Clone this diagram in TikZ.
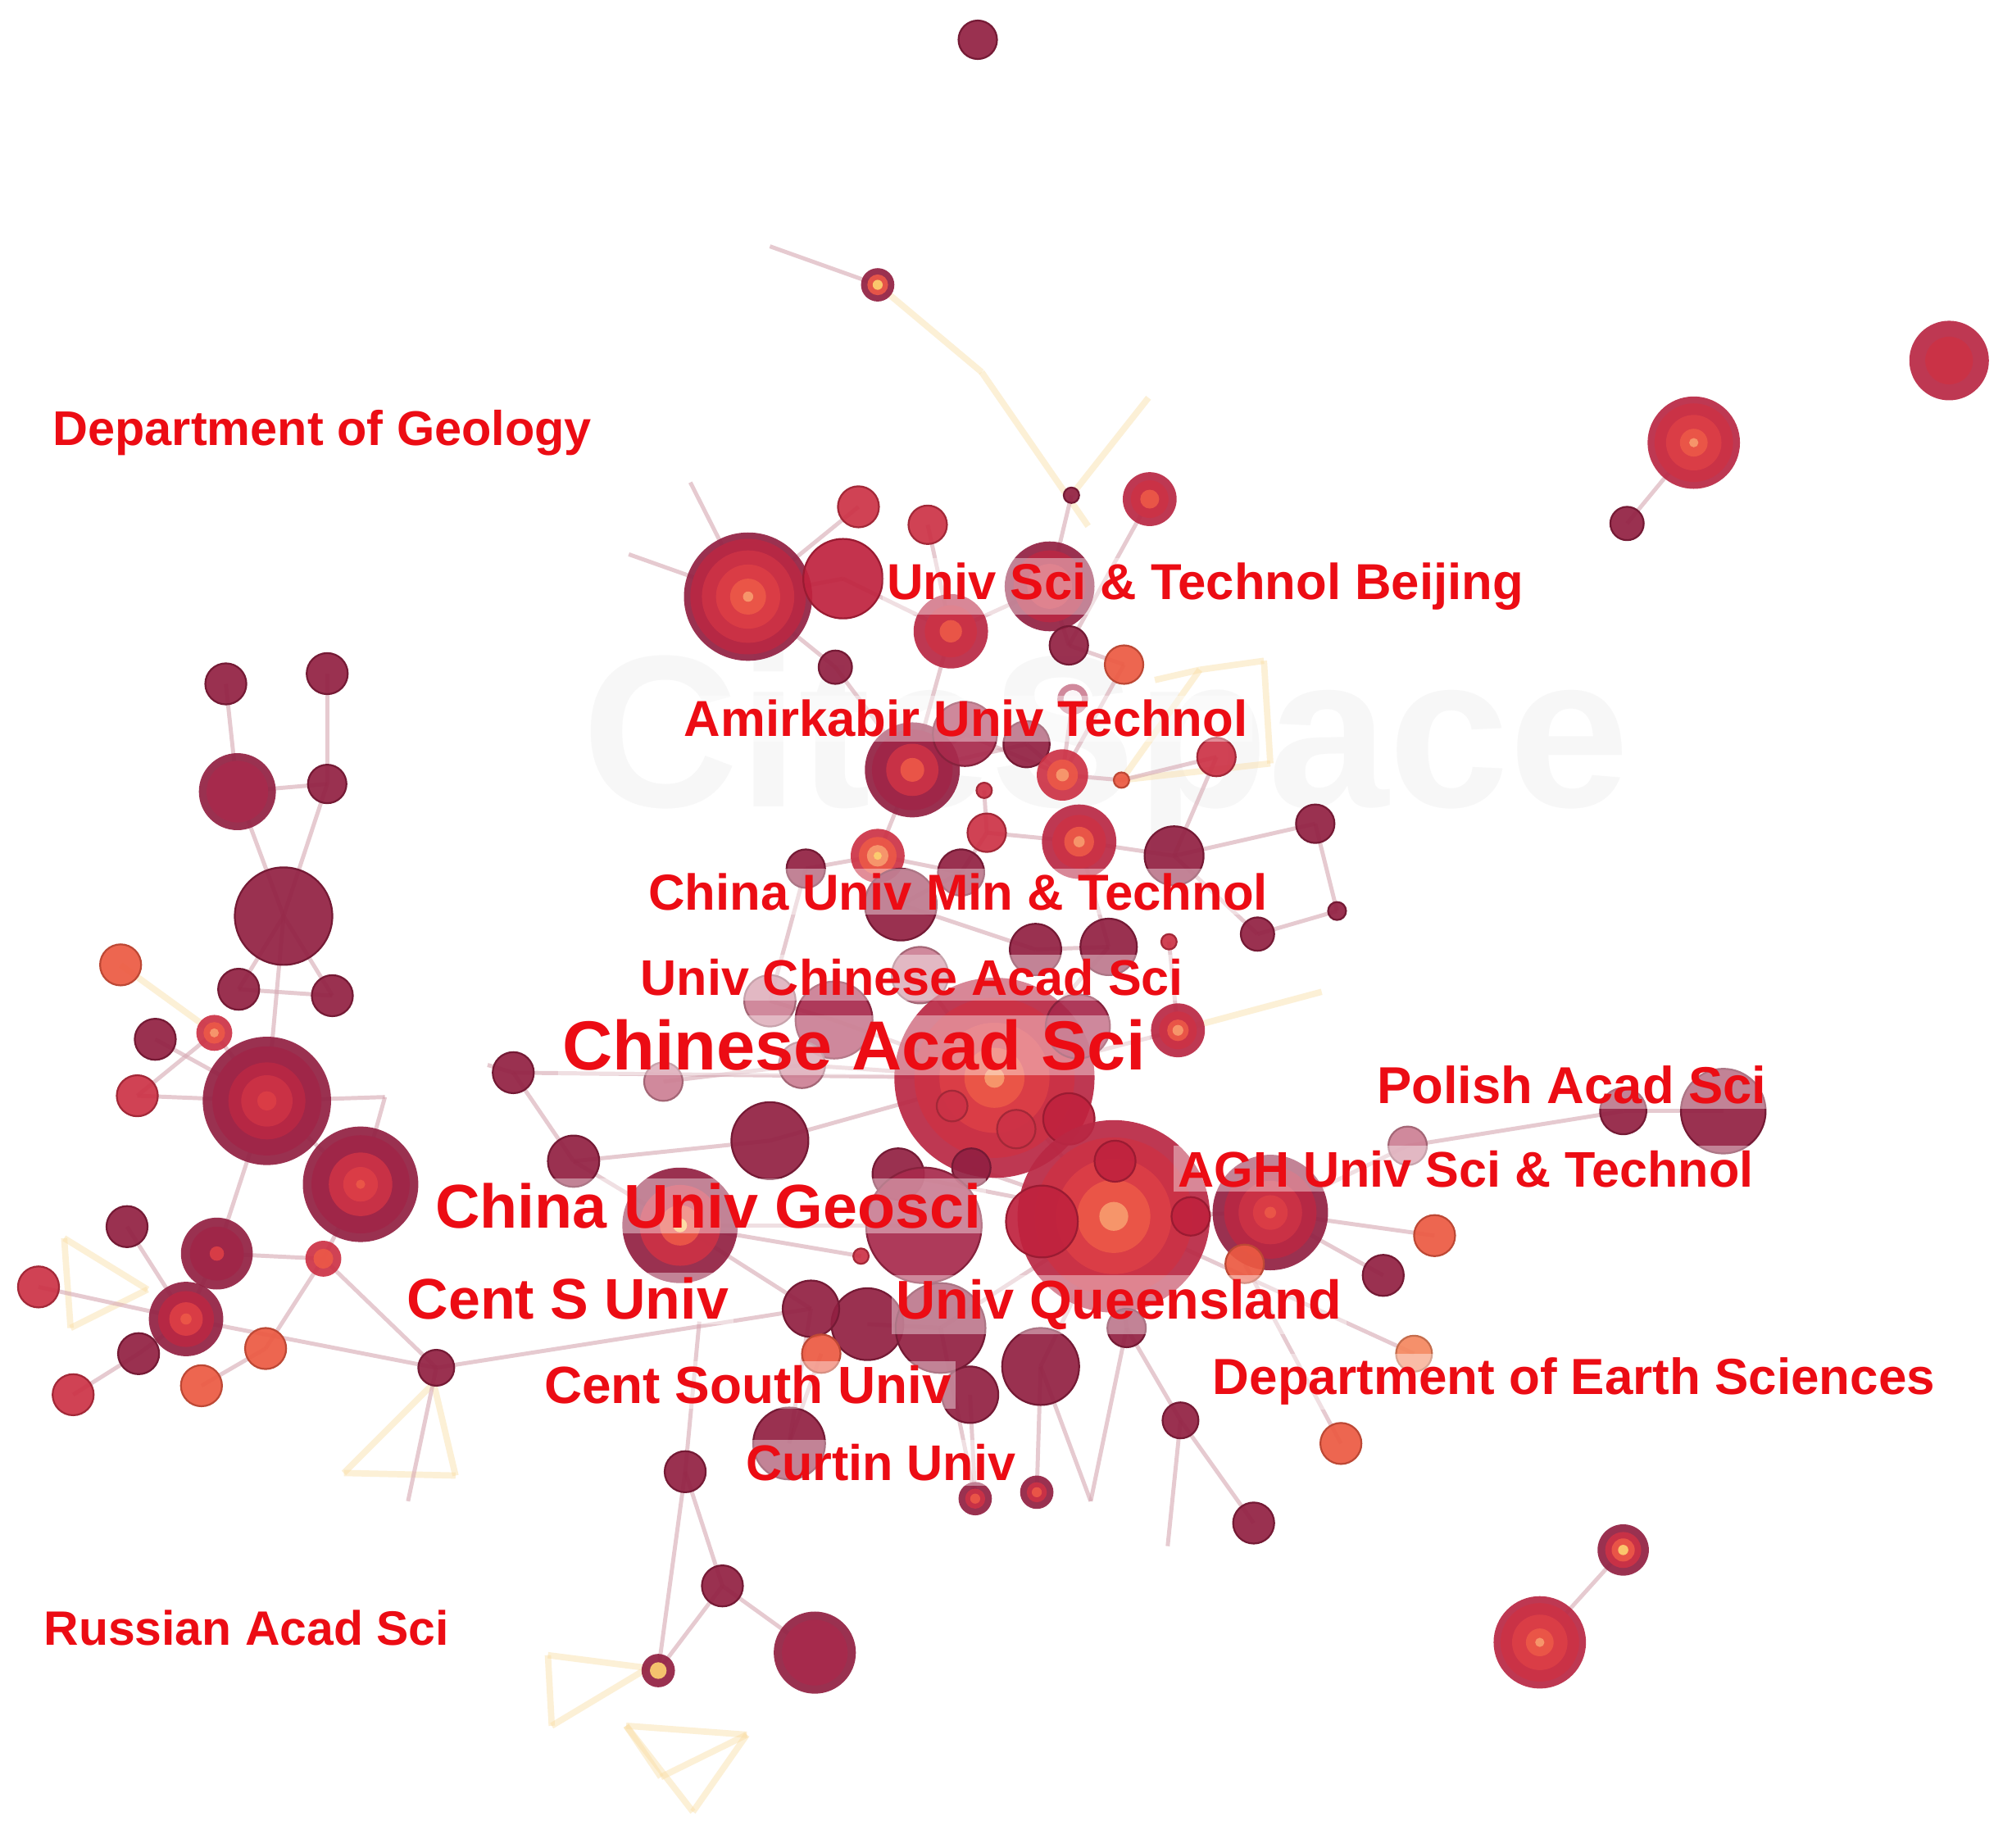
\documentclass[tikz,border=0pt]{standalone}
\usepackage{fontspec}
\setmainfont{Liberation Sans}
\definecolor{dk}{RGB}{146,32,66}
\definecolor{dkb}{RGB}{168,42,76}
\definecolor{cr}{RGB}{192,34,62}
\definecolor{rd}{RGB}{206,52,70}
\definecolor{og}{RGB}{236,90,66}
\definecolor{lo}{RGB}{245,135,95}
\definecolor{yl}{RGB}{252,208,112}
\definecolor{pk}{RGB}{205,128,148}
\definecolor{ra}{RGB}{160,38,72}
\definecolor{rb}{RGB}{185,40,68}
\definecolor{rc}{RGB}{204,50,70}
\definecolor{rdd}{RGB}{220,62,70}
\definecolor{re}{RGB}{236,88,72}
\definecolor{rf}{RGB}{248,155,110}
\definecolor{edgec}{RGB}{214,168,178}
\definecolor{yelc}{RGB}{250,222,165}
\definecolor{labred}{RGB}{236,12,20}
\newcommand{\pl}[3]{\fill[#3,draw=#3!80!black,line width=.4pt] (#1) circle[radius=#2];}
\newcommand{\rng}[3]{\foreach \ringc/\ringf in {#3}{\fill[\ringc] (#1) circle[radius=\ringf*#2];}}
\tikzset{
 edg/.style={draw=edgec,line width=0.9pt,opacity=.6},
 yedg/.style={draw=yelc,line width=1.4pt,opacity=.45},
 lab/.style={anchor=base west,inner sep=1pt,text=labred,fill=white,fill opacity=.4,text opacity=1,font=\bfseries}
}
\begin{document}
\begin{tikzpicture}[x=0.01cm,y=-0.01cm]
\fill[white] (0,0) rectangle (1568,1440);
\useasboundingbox (0,0) rectangle (1568,1440);
% watermark
\node[text=black!3,font=\bfseries\fontsize{48}{50}\selectfont,inner sep=0] (wm) at (862,585) {CiteSpace};
% ---------- coordinates
\coordinate (t1) at (762,31);
\coordinate (t2) at (684,222);
\coordinate (t3) at (1519,281);
\coordinate (t4) at (1320,345);
\coordinate (t5) at (1268,408);
\coordinate (a1) at (835,386);
\coordinate (a2) at (896,389);
\coordinate (a3) at (669,395);
\coordinate (a4) at (723,409);
\coordinate (a5) at (583,465);
\coordinate (a6) at (657,451);
\coordinate (a7) at (818,457);
\coordinate (a8) at (741,492);
\coordinate (a9) at (833,503);
\coordinate (a10) at (876,518);
\coordinate (a11) at (651,520);
\coordinate (a12) at (836,545);
\coordinate (a13) at (711,600);
\coordinate (a14) at (752,572);
\coordinate (a15) at (800,580);
\coordinate (a16) at (828,604);
\coordinate (a17) at (874,608);
\coordinate (a18) at (948,590);
\coordinate (a19) at (767,616);
\coordinate (a20) at (769,649);
\coordinate (a21) at (841,656);
\coordinate (a22) at (915,667);
\coordinate (a23) at (1025,642);
\coordinate (a24) at (1042,710);
\coordinate (a25) at (684,667);
\coordinate (a26) at (628,677);
\coordinate (a27) at (749,680);
\coordinate (a28) at (702,705);
\coordinate (a29) at (980,728);
\coordinate (a30) at (807,740);
\coordinate (a31) at (864,738);
\coordinate (a32) at (911,734);
\coordinate (a33) at (717,760);
\coordinate (a34) at (600,780);
\coordinate (a35) at (650,795);
\coordinate (c1) at (775,840);
\coordinate (c2) at (918,803);
\coordinate (c3) at (840,800);
\coordinate (c4) at (742,862);
\coordinate (c5) at (792,880);
\coordinate (c6) at (833,872);
\coordinate (c7) at (625,830);
\coordinate (c8) at (517,843);
\coordinate (c9) at (400,836);
\coordinate (c10) at (600,889);
\coordinate (c11) at (447,905);
\coordinate (c12) at (757,910);
\coordinate (q1) at (868,948);
\coordinate (q2) at (869,905);
\coordinate (q3) at (812,952);
\coordinate (q4) at (928,948);
\coordinate (g1) at (990,945);
\coordinate (g2) at (970,985);
\coordinate (p1) at (1097,893);
\coordinate (p2) at (1265,866);
\coordinate (p3) at (1343,866);
\coordinate (e1) at (1118,963);
\coordinate (e2) at (1078,994);
\coordinate (e3) at (1102,1055);
\coordinate (e4) at (1045,1125);
\coordinate (e5) at (920,1107);
\coordinate (e6) at (977,1187);
\coordinate (e7) at (878,1035);
\coordinate (s1) at (700,915);
\coordinate (s2) at (720,955);
\coordinate (gs) at (530,955);
\coordinate (s3) at (676,1032);
\coordinate (s4) at (632,1020);
\coordinate (s5) at (733,1035);
\coordinate (s6) at (811,1065);
\coordinate (s7) at (756,1087);
\coordinate (s8) at (640,1055);
\coordinate (s9) at (615,1125);
\coordinate (s10) at (760,1168);
\coordinate (s11) at (808,1163);
\coordinate (s12) at (671,979);
\coordinate (b1) at (534,1147);
\coordinate (b2) at (563,1236);
\coordinate (b3) at (513,1302);
\coordinate (b4) at (635,1288);
\coordinate (r1) at (1265,1208);
\coordinate (r2) at (1200,1280);
\coordinate (l1) at (176,533);
\coordinate (l2) at (255,525);
\coordinate (l3) at (185,617);
\coordinate (l4) at (255,611);
\coordinate (l5) at (221,714);
\coordinate (l6) at (94,752);
\coordinate (l7) at (186,771);
\coordinate (l8) at (259,776);
\coordinate (l9) at (121,810);
\coordinate (l10) at (167,805);
\coordinate (l11) at (107,854);
\coordinate (l12) at (208,858);
\coordinate (l13) at (281,923);
\coordinate (l14) at (99,956);
\coordinate (l15) at (169,977);
\coordinate (l16) at (252,981);
\coordinate (l17) at (30,1003);
\coordinate (l18) at (145,1028);
\coordinate (l19) at (108,1055);
\coordinate (l20) at (207,1051);
\coordinate (l21) at (57,1087);
\coordinate (l22) at (157,1080);
\coordinate (l23) at (340,1066);
% free ends
\coordinate (f1) at (600,192);
\coordinate (f2) at (765,290);
\coordinate (f3) at (848,410);
\coordinate (f4) at (895,310);
\coordinate (f5) at (490,432);
\coordinate (f6) at (538,376);
\coordinate (f7) at (1030,773);
\coordinate (f9) at (910,1205);
\coordinate (f10) at (545,1030);
\coordinate (f11) at (380,830);
\coordinate (f12) at (300,855);
\coordinate (f13) at (318,1170);
\coordinate (f14) at (850,1170);
\coordinate (y1) at (50,965);
\coordinate (y2) at (115,1005);
\coordinate (y3) at (55,1035);
\coordinate (y4) at (268,1148);
\coordinate (y5) at (338,1078);
\coordinate (y6) at (355,1150);
\coordinate (y7) at (427,1290);
\coordinate (y8) at (505,1300);
\coordinate (y9) at (430,1345);
\coordinate (y10) at (488,1345);
\coordinate (y11) at (540,1412);
\coordinate (y12) at (582,1352);
\coordinate (y13) at (515,1385);
\coordinate (y14) at (935,522);
\coordinate (y15) at (985,515);
\coordinate (y16) at (990,595);
\coordinate (y17) at (900,530);
% ---------- edges
\foreach \u/\v in {l6/l10,t2/f2,f2/f3,f4/a1,c2/f7,y1/y2,y2/y3,y3/y1,y4/y5,y5/y6,y6/y4,y7/y8,y8/y9,y9/y7,y10/y11,y11/y12,y12/y13,y13/y10,y10/y12,y17/y14,y14/y15,y15/y16,y16/a17,a17/y14}
  \draw[yedg] (\u) -- (\v);
\foreach \u/\v in {t4/t5,t2/f1,a5/a6,a5/f5,a5/f6,a5/a11,a11/a13,a3/a5,a4/a8,a6/a8,a7/a8,a7/a9,a1/a7,a2/a9,a9/a10,a8/a13,a10/a16,a12/a16,a13/a14,a13/a15,a14/a16,a15/a16,a16/a17,a17/a18,a18/a22,a19/a20,a20/a21,a21/a22,a22/a23,a23/a24,a22/a29,a24/a29,a21/a31,a25/a26,a25/a27,a27/a28,a28/a30,a30/a31,a31/c1,a33/c1,a34/a35,a35/c1,a26/a34,a25/a13,a27/a20,a32/c2,
  c1/c2,c1/c3,c1/q1,c1/c10,c9/c1,c8/c7,c7/c1,c10/c11,c11/gs,c12/q1,q1/q2,q1/q3,q1/q4,q1/g1,g1/g2,g1/p1,g1/e1,g1/e2,p1/p2,p2/p3,q1/e7,e7/e5,e5/e6,q1/e3,g2/e4,e5/f9,
  s1/q1,s2/gs,gs/s4,s3/s5,s5/q1,s6/q1,s6/s11,s5/s10,s7/s10,s9/s4,b1/f10,s12/gs,s8/s9,b1/b2,b1/b3,b2/b3,b2/b4,r1/r2,c9/f11,c11/c9,s6/f14,e7/f14,
  l1/l3,l2/l4,l3/l4,l3/l5,l4/l5,l5/l12,l5/l7,l5/l8,l7/l8,l9/l12,l10/l12,l11/l10,l11/l12,l12/l13,l12/l15,l14/l18,l15/l16,l15/l18,l17/l18,l18/l19,l19/l21,l16/l20,l16/l23,l18/l23,l23/s4,l13/l16,l12/f12,f12/l13,l23/f13,l20/l22}
  \draw[edg] (\u) -- (\v);
% ---------- circles
\begin{scope}[fill opacity=.92]
\pl{t1}{15}{dk}
\rng{t2}{13}{dk/1,re/.62,yl/.3}
\rng{t3}{31}{rb/1,rc/.6}
\rng{t4}{36}{rb/1,rc/.85,rdd/.6,re/.3,rf/.1}
\pl{t5}{13}{dk}
% upper cluster
\pl{a1}{6}{dk}
\rng{a2}{21}{rb/1,rc/.7,re/.35}
\pl{a3}{16}{rc}
\pl{a4}{15}{rc}
\rng{a5}{50}{dk/1,rb/.9,rc/.72,rdd/.5,re/.28,rf/.08}
\pl{a6}{31}{cr}
\rng{a7}{35}{dk/1,rb/.8,rc/.5}
\rng{a8}{29}{rb/1,rc/.7,re/.3}
\pl{a9}{15}{dk}
\pl{a10}{15}{og}
\pl{a11}{13}{dk}
\rng{a12}{12}{pk/1,white/.6}
\rng{a13}{37}{dk/1,ra/.85,rc/.55,re/.25}
\pl{a14}{25}{dkb}
\pl{a15}{18}{dk}
\rng{a16}{20}{rc/1,re/.6,rf/.25}
\pl{a17}{6}{og}
\pl{a18}{15}{rc}
\pl{a19}{6}{rc}
\pl{a20}{15}{rc}
\rng{a21}{29}{rb/1,rc/.72,re/.4,rf/.15}
\pl{a22}{23}{dk}
\pl{a23}{15}{dk}
\pl{a24}{7}{dk}
\rng{a25}{21}{rc/1,re/.7,rf/.4,yl/.15}
\pl{a26}{15}{dk}
\pl{a27}{18}{dk}
\pl{a28}{28}{dk}
\pl{a29}{13}{dk}
\pl{a30}{20}{dk}
\pl{a31}{22}{dk}
\pl{a32}{6}{rc}
\pl{a33}{22}{pk}
\pl{a34}{20}{pk}
\pl{a35}{30}{dkb}
% center
\rng{c1}{78}{rb/1,rc/.8,rdd/.55,re/.3,rf/.1}
\rng{c2}{21}{rb/1,rc/.7,re/.4,rf/.2}
\pl{c3}{25}{dkb}
\pl{c4}{12}{rc}
\pl{c5}{15}{rc}
\pl{c6}{20}{cr}
\pl{c7}{18}{pk}
\pl{c8}{15}{pk}
\pl{c9}{16}{dk}
\pl{c10}{30}{dk}
\pl{c11}{20}{dk}
\pl{c12}{15}{dk}
\rng{q1}{75}{rb/1,rc/.82,rdd/.6,re/.38,rf/.15}
\pl{q2}{16}{cr}
\pl{q3}{28}{cr}
\pl{q4}{15}{cr}
\rng{g1}{45}{dk/1,rb/.8,rc/.55,rdd/.3,re/.1}
\pl{g2}{15}{og}
\pl{p1}{15}{pk}
\pl{p2}{18}{dk}
\pl{p3}{33}{dk}
\pl{e1}{16}{og}
\pl{e2}{16}{dk}
\pl{e3}{14}{lo}
\pl{e4}{16}{og}
\pl{e5}{14}{dk}
\pl{e6}{16}{dk}
\pl{e7}{15}{dk}
\pl{s1}{20}{dk}
\pl{s2}{45}{dkb}
\rng{gs}{45}{dk/1,rc/.7,re/.35,yl/.12}
\pl{s3}{28}{dk}
\pl{s4}{22}{dk}
\pl{s5}{35}{dk}
\pl{s6}{30}{dk}
\pl{s7}{22}{dk}
\pl{s8}{15}{og}
\pl{s9}{28}{dk}
\rng{s10}{13}{dk/1,rc/.6,re/.3}
\rng{s11}{13}{dk/1,rc/.6,re/.3}
\pl{s12}{6}{rc}
\pl{b1}{16}{dk}
\pl{b2}{16}{dk}
\rng{b3}{13}{dk/1,yl/.5}
\rng{b4}{32}{dk/1,dkb/.8}
\rng{r1}{20}{dk/1,rc/.7,re/.45,yl/.2}
\rng{r2}{36}{rb/1,rc/.85,rdd/.6,re/.3,rf/.1}
% left cluster
\pl{l1}{16}{dk}
\pl{l2}{16}{dk}
\rng{l3}{30}{dk/1,dkb/.8}
\pl{l4}{15}{dk}
\pl{l5}{38}{dk}
\pl{l6}{16}{og}
\pl{l7}{16}{dk}
\pl{l8}{16}{dk}
\pl{l9}{16}{dk}
\rng{l10}{14}{rc/1,re/.6,rf/.25}
\pl{l11}{16}{rc}
\rng{l12}{50}{dk/1,ra/.85,rb/.6,rc/.4,rdd/.15}
\rng{l13}{45}{dk/1,ra/.85,rc/.55,rdd/.3,re/.08}
\pl{l14}{16}{dk}
\rng{l15}{28}{dk/1,ra/.75,rdd/.2}
\rng{l16}{14}{rc/1,re/.55}
\pl{l17}{16}{rc}
\rng{l18}{29}{dk/1,rb/.75,rdd/.45,re/.15}
\pl{l19}{16}{dk}
\pl{l20}{16}{og}
\pl{l21}{16}{rc}
\pl{l22}{16}{og}
\pl{l23}{14}{dk}
\end{scope}
% ---------- labels
\node[lab,font=\bfseries\fontsize{10.8}{12}\selectfont] (L1) at (37,347) {Department of Geology};
\node[lab,font=\bfseries\fontsize{11.2}{12}\selectfont] (L2) at (687,467) {Univ Sci \& Technol Beijing};
\node[lab,font=\bfseries\fontsize{11.2}{12}\selectfont] (L3) at (529,574) {Amirkabir Univ Technol};
\node[lab,font=\bfseries\fontsize{11.2}{12}\selectfont] (L4) at (501,709) {China Univ Min \& Technol};
\node[lab,font=\bfseries\fontsize{11.1}{12}\selectfont] (L5) at (495,776) {Univ Chinese Acad Sci};
\node[lab,font=\bfseries\fontsize{15.4}{17}\selectfont] (L6) at (434,834) {Chinese Acad Sci};
\node[lab,font=\bfseries\fontsize{11.5}{12}\selectfont] (L7) at (1069,860) {Polish Acad Sci};
\node[lab,font=\bfseries\fontsize{11.1}{12}\selectfont] (L8) at (914,925) {AGH Univ Sci \& Technol};
\node[lab,font=\bfseries\fontsize{13.7}{15}\selectfont] (L9) at (335,957) {China Univ Geosci};
\node[lab,font=\bfseries\fontsize{12.7}{14}\selectfont] (L10) at (313,1028) {Cent S Univ};
\node[lab,font=\bfseries\fontsize{12.1}{14}\selectfont] (L11) at (694,1028) {Univ Queensland};
\node[lab,font=\bfseries\fontsize{11.25}{12}\selectfont] (L12) at (941,1087) {Department of Earth Sciences};
\node[lab,font=\bfseries\fontsize{11.6}{12}\selectfont] (L13) at (420,1094) {Cent South Univ};
\node[lab,font=\bfseries\fontsize{11.1}{12}\selectfont] (L14) at (577,1154) {Curtin Univ};
\node[lab,font=\bfseries\fontsize{10.7}{12}\selectfont] (L15) at (30,1282) {Russian Acad Sci};
\end{tikzpicture}
\end{document}
